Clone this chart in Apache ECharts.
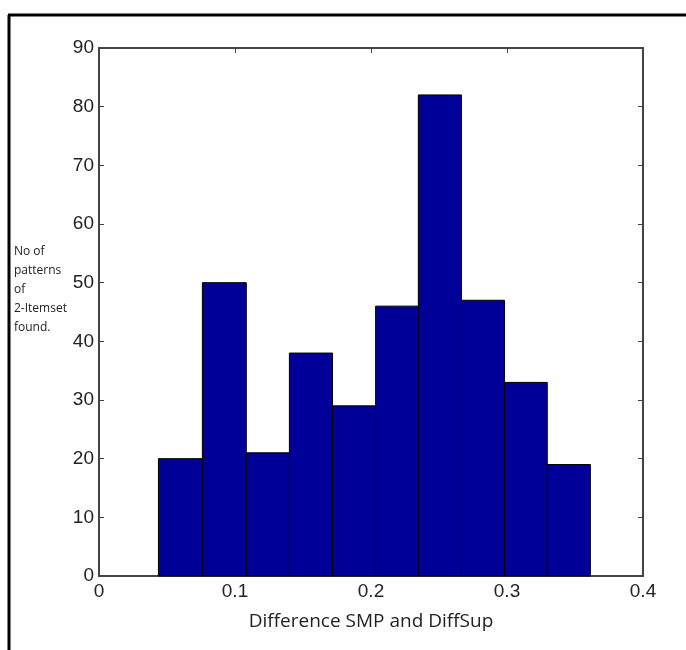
<!DOCTYPE html>
<html><head><meta charset="utf-8">
<script src="https://cdn.jsdelivr.net/npm/echarts@6/dist/echarts.min.js"></script>
<style>html,body{margin:0;padding:0;background:#fff}#c{width:686px;height:650px}</style>
</head><body><div id="c"></div>
<script>
const binEdges = [0.0437, 0.0760, 0.1083, 0.1400, 0.1717, 0.2034, 0.2348, 0.2665, 0.2982, 0.3296, 0.3613];
const counts = [20, 50, 21, 38, 29, 46, 82, 47, 33, 19];
const xTicks = [0, 0.1, 0.2, 0.3, 0.4];
const yTicks = [0, 10, 20, 30, 40, 50, 60, 70, 80, 90];
const xTitle = 'Difference SMP and DiffSup';
const yTitle = 'No of\npatterns\nof\n2-Itemset\nfound.';

const data = counts.map((c, i) => [binEdges[i], binEdges[i + 1], c]);
const axisCol = '#444';
const labelFont = 'Liberation Sans';
const boxAxis = {
  axisLine: {show: true, onZero: false, lineStyle: {color: axisCol, width: 2}},
  axisTick: {show: true, inside: true, length: 5, lineStyle: {color: axisCol}},
  splitLine: {show: false}
};
const chart = echarts.init(document.getElementById('c'));
chart.setOption({
  animation: false,
  grid: {left: 99, right: 43, top: 48, bottom: 74},
  xAxis: [Object.assign({
    type: 'value', position: 'bottom', min: 0, max: 0.4, interval: 0.1,
    axisLabel: {color: '#222', fontFamily: labelFont, fontSize: 19, margin: 6,
      formatter: v => xTicks.includes(+v.toFixed(2)) ? String(+v.toFixed(2)) : ''},
    name: xTitle, nameLocation: 'middle', nameGap: 36,
    nameTextStyle: {color: '#222', fontFamily: 'Open Sans', fontSize: 19}
  }, boxAxis), Object.assign({
    type: 'value', position: 'top', min: 0, max: 0.4, interval: 0.1,
    axisLabel: {show: false}
  }, boxAxis)],
  yAxis: [Object.assign({
    type: 'value', position: 'left', min: 0, max: 90, interval: 10,
    axisLabel: {color: '#222', fontFamily: labelFont, fontSize: 19, margin: 5,
      formatter: v => yTicks.includes(v) ? String(v) : ''}
  }, boxAxis), Object.assign({
    type: 'value', position: 'right', min: 0, max: 90, interval: 10,
    axisLabel: {show: false}
  }, boxAxis)],
  graphic: [
    {type: 'line', shape: {x1: 9, y1: 15, x2: 9, y2: 650}, style: {stroke: '#000', lineWidth: 3}},
    {type: 'line', shape: {x1: 8, y1: 15, x2: 686, y2: 15}, style: {stroke: '#000', lineWidth: 3}},
    {type: 'text', left: 14, top: 242, style: {text: yTitle, fill: '#222', font: '12px "Open Sans"', lineHeight: 19}}
  ],
  series: [{
    type: 'custom',
    xAxisIndex: 0, yAxisIndex: 0,
    encode: {x: [0, 1], y: 2},
    data: data,
    renderItem: function (params, api) {
      const p0 = api.coord([api.value(0), api.value(2)]);
      const p1 = api.coord([api.value(1), 0]);
      return {
        type: 'rect',
        shape: {x: p0[0], y: p0[1], width: p1[0] - p0[0], height: p1[1] - p0[1]},
        style: {fill: '#000099', stroke: '#000', lineWidth: 1}
      };
    }
  }]
});
</script></body></html>
